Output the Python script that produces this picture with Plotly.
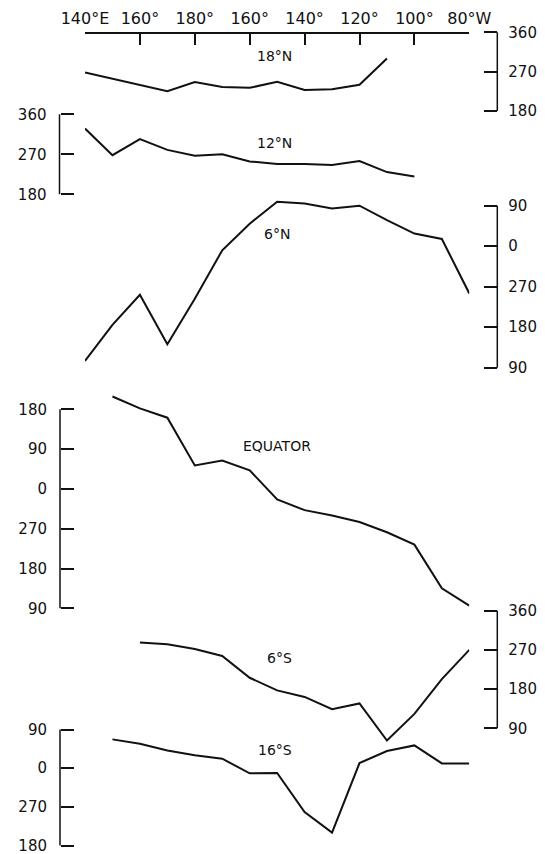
import plotly.graph_objects as go

# ---------------- data ----------------
lon = [140, 150, 160, 170, 180, 190, 200, 210, 220, 230, 240, 250, 260, 270, 280]
lon_ticks = [140, 160, 180, 200, 220, 240, 260, 280]
lon_labels = ["140°E", "160°", "180°", "160°", "140°", "120°", "100°", "80°W"]

phase_18N = [268, 254, 240, 225, 246, 235, 233, 247, 228, 230, 240, 300, None, None, None]
phase_12N = [328, 268, 304, 280, 267, 270, 254, 248, 248, 246, 255, 230, 220, None, None]
phase_6N = [105, 185, 252, 142, 243, 351, 410, 459, 455, 444, 450, 418, 388, 376, 255]
phase_EQ = [None, 569, 542, 521, 413, 424, 402, 336, 312, 300, 285, 262, 234, 135, 96]
phase_6S = [None, None, 287, 283, 272, 256, 206, 177, 162, 134, 147, 62, 123, 203, 270]
phase_16S = [None, 427, 417, 401, 390, 382, 348, 349, 258, 210, 372, 400, 413, 371, 371]

labels_18N = ([180, 270, 360], ["180", "270", "360"])
labels_12N = ([180, 270, 360], ["180", "270", "360"])
labels_6N = ([90, 180, 270, 360, 450], ["90", "180", "270", "0", "90"])
labels_EQ = ([90, 180, 270, 360, 450, 540], ["90", "180", "270", "0", "90", "180"])
labels_6S = ([90, 180, 270, 360], ["90", "180", "270", "360"])
labels_16S = ([180, 270, 360, 450], ["180", "270", "0", "90"])

names = ["18°N", "12°N", "6°N", "EQUATOR", "6°S", "16°S"]
series = [phase_18N, phase_12N, phase_6N, phase_EQ, phase_6S, phase_16S]
tick_sets = [labels_18N, labels_12N, labels_6N, labels_EQ, labels_6S, labels_16S]

# ---------------- layout geometry (pixels) ----------------
W, H = 545, 854
INK = "#111111"
FONT = "DejaVu Sans"

# side, axis x pixel, (low value, pixel), (high value, pixel)
geo = [
    ("right", 497.3, (180, 111.0), (360, 32.3)),
    ("left", 59.5, (180, 194.3), (360, 114.3)),
    ("right", 497.3, (90, 367.7), (450, 205.7)),
    ("left", 60.0, (90, 608.3), (540, 409.3)),
    ("right", 497.3, (90, 728.3), (360, 610.7)),
    ("left", 60.0, (180, 845.5), (450, 729.5)),
]
label_pos = [(274, 56), (274, 143), (277, 234), (277, 446), (279, 658), (275, 750)]

fig = go.Figure()
layout = dict(
    width=W, height=H,
    margin=dict(l=0, r=0, t=0, b=0, autoexpand=False),
    paper_bgcolor="white",
    plot_bgcolor="rgba(0,0,0,0)",
    showlegend=False,
    font=dict(family=FONT, color=INK),
    xaxis=dict(
        domain=[85 / W, 469.3 / W], range=[140, 280],
        anchor="free", position=1 - 32.7 / H, side="top",
        showline=True, linecolor=INK, linewidth=1.5,
        ticks="inside", ticklen=12, tickwidth=1.5, tickcolor=INK,
        tickvals=lon_ticks, ticktext=lon_labels,
        tickfont=dict(size=16, family=FONT, color=INK),
        ticklabelstandoff=2, ticklabeloverflow="allow",
        showgrid=False, zeroline=False, automargin=False,
    ),
)
shapes = []
annotations = []

for i, (name, vals, (tv, tt), (side, axx, (lo, plo), (hi, phi))) in enumerate(
        zip(names, series, tick_sets, geo)):
    key = "yaxis" if i == 0 else f"yaxis{i + 1}"
    ref = "y" if i == 0 else f"y{i + 1}"
    ppd = (plo - phi) / (hi - lo)  # pixels per degree
    top = max(0.0, phi - 45)
    bot = min(float(H), plo + 45)
    r_top = hi + (phi - top) / ppd
    r_bot = lo - (bot - plo) / ppd
    layout[key] = dict(
        domain=[1 - bot / H, 1 - top / H], range=[r_bot, r_top],
        anchor="free", position=axx / W, side=side,
        showline=False, showgrid=False, zeroline=False, automargin=False,
        ticks="inside", ticklen=13, tickwidth=1.5, tickcolor=INK,
        tickvals=tv, ticktext=tt,
        tickfont=dict(size=15, family=FONT, color=INK),
        ticklabelstandoff=10 if side == "right" else 13,
        ticklabeloverflow="allow",
    )
    shapes.append(dict(type="line", xref="paper", yref=ref,
                       x0=axx / W, x1=axx / W, y0=lo, y1=hi,
                       line=dict(color=INK, width=1.5)))
    fig.add_trace(go.Scatter(
        x=lon, y=vals, mode="lines", yaxis=ref, xaxis="x",
        line=dict(color=INK, width=2), connectgaps=False,
        hoverinfo="skip", showlegend=False))
    lx, ly = label_pos[i]
    annotations.append(dict(text=name, xref="paper", yref="paper",
                            x=lx / W, y=1 - ly / H, showarrow=False,
                            xanchor="center", yanchor="middle",
                            font=dict(size=14, family=FONT, color=INK)))

layout["shapes"] = shapes
layout["annotations"] = annotations
fig.update_layout(**layout)
fig.write_html("out.html")
